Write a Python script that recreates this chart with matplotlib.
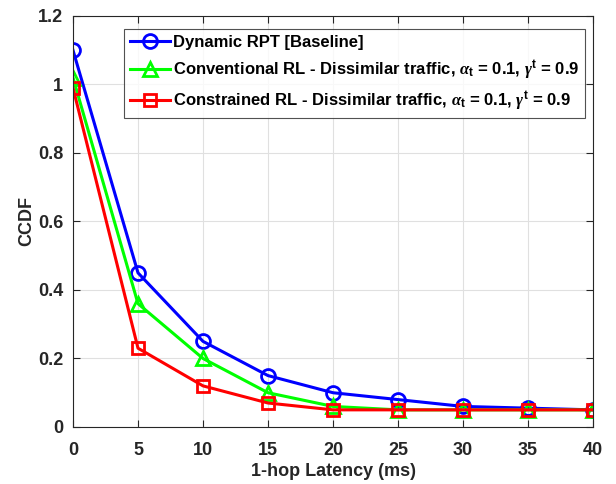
import matplotlib
matplotlib.use("Agg")
import matplotlib.pyplot as plt

latency = [0, 5, 10, 15, 20, 25, 30, 35, 40]
dynamic_rpt = [1.10, 0.45, 0.25, 0.15, 0.10, 0.08, 0.06, 0.055, 0.05]
conventional_rl = [1.02, 0.36, 0.20, 0.10, 0.06, 0.05, 0.05, 0.05, 0.05]
constrained_rl = [0.99, 0.23, 0.12, 0.07, 0.05, 0.05, 0.05, 0.05, 0.05]

labels = ["Dynamic RPT [Baseline]",
          r"Conventional RL - Dissimilar traffic, $\alpha_\mathregular{t}$ = 0.1, $\gamma^\mathregular{t}$ = 0.9",
          r"Constrained RL - Dissimilar traffic, $\alpha_\mathregular{t}$ = 0.1, $\gamma^\mathregular{t}$ = 0.9"]

plt.rcParams['font.family'] = ['Liberation Sans', 'DejaVu Sans']
plt.rcParams['font.weight'] = 'bold'
plt.rcParams['mathtext.fontset'] = 'custom'
plt.rcParams['mathtext.rm'] = 'Liberation Sans:bold'
plt.rcParams['mathtext.it'] = 'Liberation Serif:italic'

fig = plt.figure(figsize=(6.16, 4.84), dpi=100)
ax = fig.add_axes([0.1185, 0.1178, 0.8442, 0.8492])

ax.plot(latency, dynamic_rpt, color='#0000ff', lw=2.2, marker='o', ms=10, mfc='none', mew=2, label=labels[0])
ax.plot(latency, conventional_rl, color='#00ff00', lw=2.2, marker='^', ms=10, mfc='none', mew=2, label=labels[1])
ax.plot(latency, constrained_rl, color='#ff0000', lw=2.2, marker='s', ms=9, mfc='none', mew=2, label=labels[2])

ax.set_xlim(0, 40)
ax.set_ylim(0, 1.2)
ax.set_xticks(latency)
ax.set_yticks([0, 0.2, 0.4, 0.6, 0.8, 1.0, 1.2])
ax.set_yticklabels(['0', '0.2', '0.4', '0.6', '0.8', '1', '1.2'])
ax.grid(True, color='#e0e0e0', lw=0.8)
ax.set_axisbelow(True)
ax.tick_params(direction='in', top=True, right=True, labelsize=13, colors='#262626', length=5, width=0.8, pad=7)
ax.tick_params(axis='x', pad=11)
for lab in ax.get_xticklabels() + ax.get_yticklabels():
    lab.set_fontweight('bold')
for s in ax.spines.values():
    s.set_color('#262626')
    s.set_linewidth(0.8)

ax.set_xlabel('1-hop Latency (ms)', fontsize=13, fontweight='bold', color='#262626', labelpad=3)
ax.set_ylabel('CCDF', fontsize=13, fontweight='bold', color='#262626', labelpad=2)

leg = ax.legend(loc='upper left', bbox_to_anchor=(0.098, 0.968), fontsize=12, frameon=True,
                fancybox=False, edgecolor='#262626', handlelength=2.4, borderpad=0.35,
                labelspacing=0.5, handletextpad=0.2, borderaxespad=0)
leg.get_frame().set_linewidth(0.8)

fig.savefig('out.png', dpi=100)
